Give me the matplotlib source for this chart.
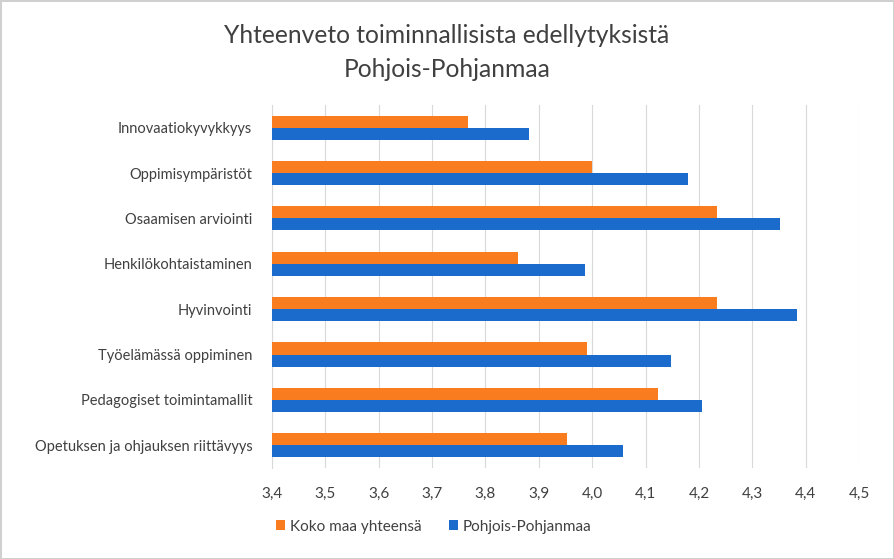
import matplotlib
matplotlib.use("Agg")
import matplotlib.pyplot as plt
import numpy as np

categories = [
    "Innovaatiokyvykkyys",
    "Oppimisympäristöt",
    "Osaamisen arviointi",
    "Henkilökohtaistaminen",
    "Hyvinvointi",
    "Työelämässä oppiminen",
    "Pedagogiset toimintamallit",
    "Opetuksen ja ohjauksen riittävyys",
]
koko_maa = [3.767, 4.00, 4.234, 3.861, 4.234, 3.99, 4.124, 3.952]
pohjois = [3.882, 4.179, 4.351, 3.987, 4.383, 4.147, 4.205, 4.058]
ticks = [3.4, 3.5, 3.6, 3.7, 3.8, 3.9, 4.0, 4.1, 4.2, 4.3, 4.4, 4.5]

ORANGE = "#F97C1E"
BLUE = "#1A6BCB"
TEXT = "#404040"

plt.rcParams["font.family"] = ["Lato", "DejaVu Sans"]

fig = plt.figure(figsize=(8.94, 5.59), dpi=100)
fig.patch.set_edgecolor("#d0d0d0")
fig.patch.set_linewidth(2)
ax = fig.add_axes([0.304, 0.163, 0.657, 0.649])

y = np.arange(len(categories))
h = 0.265
left = ticks[0]
ax.barh(y - h / 2, np.array(koko_maa) - left, left=left, height=h, color=ORANGE,
        label="Koko maa yhteensä", zorder=3)
ax.barh(y + h / 2, np.array(pohjois) - left, left=left, height=h, color=BLUE,
        label="Pohjois-Pohjanmaa", zorder=3)

ax.set_xlim(ticks[0], ticks[-1])
ax.set_ylim(len(categories) - 0.5, -0.5)
ax.set_xticks(ticks)
ax.set_xticklabels([f"{t:.1f}".replace(".", ",") for t in ticks])
ax.set_yticks(y)
ax.set_yticklabels(categories)
ax.tick_params(axis="both", length=0, labelsize=11, colors=TEXT)
ax.tick_params(axis="y", labelsize=10.5, pad=14)
ax.tick_params(axis="x", pad=14)
ax.grid(axis="x", color="#d9d9d9", linewidth=0.8, zorder=0)
for s in ["top", "right", "bottom"]:
    ax.spines[s].set_visible(False)
ax.spines["left"].set_color("#d9d9d9")

fig.text(0.5, 0.937, "Yhteenveto toiminnallisista edellytyksistä", ha="center",
         va="center", fontsize=17.7, color=TEXT)
fig.text(0.5, 0.875, "Pohjois-Pohjanmaa", ha="center", va="center",
         fontsize=17.7, color=TEXT)

fig.legend(loc="center", bbox_to_anchor=(0.485, 0.058), ncol=2, frameon=False,
           fontsize=11, handlelength=0.6, handleheight=0.6, handletextpad=0.3,
           columnspacing=1.8, labelcolor=TEXT)

fig.savefig("out.png", dpi=100)
